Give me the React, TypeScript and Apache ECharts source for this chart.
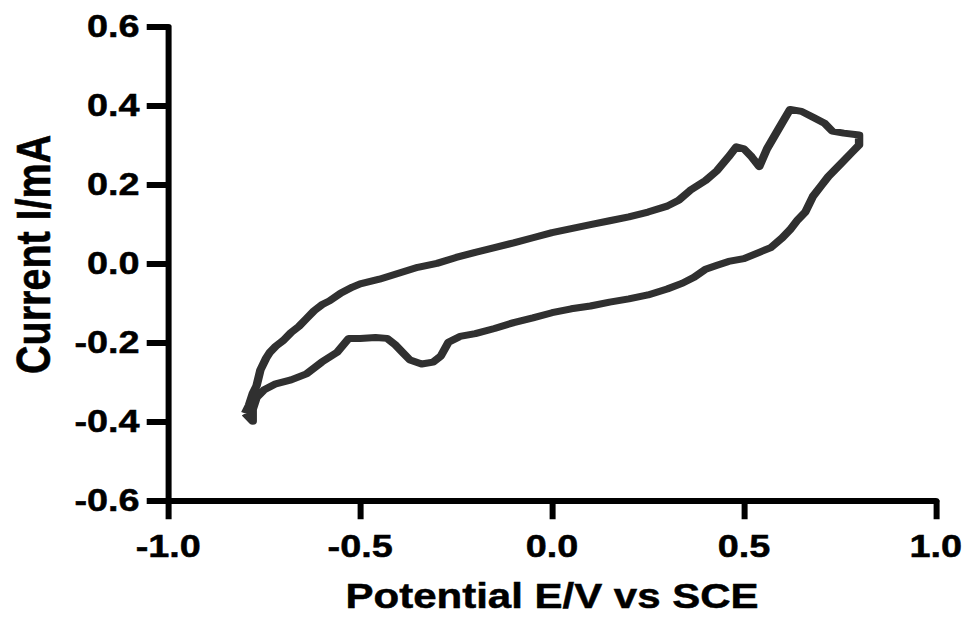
import React, { useEffect, useRef } from "react";
import * as echarts from "echarts";

// Cyclic voltammogram (full loop, in sweep order)
const potential: number[] = [
  -0.8, -0.79, -0.78, -0.77, -0.76, -0.745, -0.735, -0.72, -0.7, -0.68, -0.66, -0.64, -0.62, -0.6,
  -0.58, -0.55, -0.52, -0.5, -0.45, -0.4, -0.35, -0.3, -0.25, -0.2, -0.15, -0.1, -0.05, 0.0, 0.05,
  0.1, 0.15, 0.2, 0.25, 0.3, 0.33, 0.36, 0.4, 0.43, 0.46, 0.48, 0.5, 0.52, 0.54, 0.56, 0.59, 0.62,
  0.65, 0.68, 0.71, 0.73, 0.76, 0.8, 0.8,
  0.78, 0.75, 0.72, 0.7, 0.68, 0.66, 0.64, 0.62, 0.6, 0.57, 0.54, 0.5, 0.46, 0.43, 0.4, 0.37, 0.34,
  0.3, 0.25, 0.2, 0.15, 0.1, 0.05, 0.0, -0.05, -0.1, -0.15, -0.2, -0.24, -0.27, -0.29, -0.31, -0.34,
  -0.37, -0.39, -0.41, -0.43, -0.46, -0.5, -0.53, -0.56, -0.6, -0.64, -0.68, -0.72, -0.75, -0.77,
  -0.78, -0.78, -0.8,
];
const current: number[] = [
  -0.38, -0.36, -0.33, -0.31, -0.27, -0.24, -0.225, -0.21, -0.195, -0.175, -0.16, -0.14, -0.12, -0.105,
  -0.095, -0.075, -0.06, -0.052, -0.04, -0.025, -0.01, 0.0, 0.015, 0.028, 0.04, 0.052, 0.065, 0.078, 0.088,
  0.098, 0.108, 0.118, 0.13, 0.145, 0.16, 0.185, 0.21, 0.235, 0.27, 0.295, 0.29, 0.27, 0.245, 0.29, 0.34, 0.39,
  0.385, 0.37, 0.355, 0.335, 0.33, 0.325, 0.3,
  0.28, 0.25, 0.22, 0.195, 0.17, 0.13, 0.11, 0.085, 0.065, 0.04, 0.028, 0.012, 0.005, -0.005, -0.015, -0.035, -0.05,
  -0.065, -0.08, -0.09, -0.098, -0.108, -0.115, -0.125, -0.138, -0.15, -0.165, -0.178, -0.185, -0.2, -0.235, -0.25, -0.255,
  -0.245, -0.225, -0.205, -0.19, -0.188, -0.19, -0.19, -0.225, -0.25, -0.28, -0.295, -0.305, -0.32, -0.34,
  -0.37, -0.4, -0.38,
];

const xTicks: number[] = [-1.0, -0.5, 0.0, 0.5, 1.0];
const yTicks: number[] = [-0.6, -0.4, -0.2, 0.0, 0.2, 0.4, 0.6];

const xTitle = "Potential E/V vs SCE";
const yTitle = "Current I/mA";

// the reference picture is stretched horizontally
const STRETCH = 1.2;
const WIDTH = 966 / STRETCH;
const HEIGHT = 619;

const FONT = "'Liberation Sans', Arial, Helvetica, sans-serif";
const HEAVY = { textBorderColor: "#000", textBorderWidth: 0.5 };

export default function App() {
  const ref = useRef<HTMLDivElement>(null);

  useEffect(() => {
    if (!ref.current) return;
    const chart = echarts.init(ref.current, undefined, { renderer: "svg" });
    const data = potential.map((e, i) => [e, current[i]]);
    chart.setOption({
      animation: false,
      backgroundColor: "#ffffff",
      grid: { left: 135, right: 23.3, top: 26.5, bottom: 112.5, containLabel: false },
      xAxis: {
        type: "value",
        min: xTicks[0],
        max: xTicks[xTicks.length - 1],
        interval: 0.5,
        name: xTitle,
        nameLocation: "middle",
        nameGap: 78.5,
        nameTextStyle: { fontFamily: FONT, fontWeight: "bold", fontSize: 35, color: "#000", ...HEAVY },
        axisLine: { onZero: false, lineStyle: { color: "#000", width: 6 } },
        axisTick: { show: true, inside: false, length: 19, lineStyle: { color: "#000", width: 5 } },
        axisLabel: {
          margin: 30,
          fontFamily: FONT,
          fontWeight: "bold",
          fontSize: 31.5,
          color: "#000",
          ...HEAVY,
          formatter: (v: number) => v.toFixed(1),
        },
        splitLine: { show: false },
      },
      yAxis: {
        type: "value",
        min: yTicks[0],
        max: yTicks[yTicks.length - 1],
        interval: 0.2,
        name: yTitle,
        nameLocation: "middle",
        nameGap: 92,
        nameTextStyle: {
          fontFamily: FONT,
          fontWeight: "bold",
          fontSize: 39.5,
          color: "#000",
          ...HEAVY,
          padding: [0, 0, 0, 18],
        },
        axisLine: { onZero: false, lineStyle: { color: "#000", width: 5 } },
        axisTick: { show: true, inside: false, length: 18, lineStyle: { color: "#000", width: 6 } },
        axisLabel: {
          margin: 24,
          fontFamily: FONT,
          fontWeight: "bold",
          fontSize: 31.5,
          color: "#000",
          ...HEAVY,
          formatter: (v: number) => (Math.abs(v) < 1e-9 ? "0.0" : v.toFixed(1)),
        },
        splitLine: { show: false },
      },
      series: [
        {
          type: "line",
          data,
          showSymbol: false,
          smooth: false,
          lineStyle: { color: "#303030", width: 7, join: "round" },
        },
      ],
    });
    return () => chart.dispose();
  }, []);

  return (
    <div
      ref={ref}
      style={{
        position: "fixed",
        left: 0,
        top: 0,
        width: WIDTH + "px",
        height: HEIGHT + "px",
        transform: `scaleX(${STRETCH})`,
        transformOrigin: "0 0",
        background: "#fff",
      }}
    />
  );
}
